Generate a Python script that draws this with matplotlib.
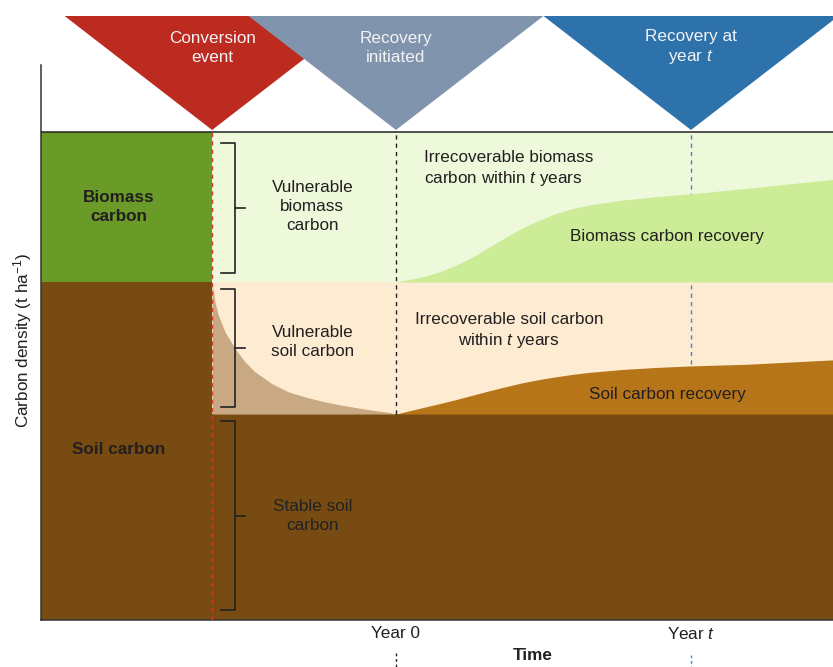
import matplotlib
matplotlib.use("Agg")
import matplotlib.pyplot as plt

plt.rcParams['font.family'] = ['Liberation Sans', 'DejaVu Sans']
plt.rcParams['mathtext.fontset'] = 'custom'
plt.rcParams['mathtext.rm'] = 'Liberation Sans'
plt.rcParams['mathtext.it'] = 'Liberation Sans:italic'
plt.rcParams['mathtext.bf'] = 'Liberation Sans:bold'

# time axis (years relative to recovery start), carbon density (arbitrary t/ha)
conversion_year = -18.7
year_0 = 0
year_t = 30
biomass_top = 200.0
soil_top = 138.5
stable_top = 84.4

# soil carbon decay after conversion
decay_years = [-18.7, -18.41, -18.07, -17.39, -16.37, -15.36, -14.34, -12.64, -10.95,
               -9.25, -7.56, -5.87, -4.17, -2.47, -0.78, 0]
decay_vals = [138.0, 130.4, 125.0, 118.1, 111.3, 105.8, 101.7, 96.9, 93.5,
              91.4, 89.7, 88.3, 87.1, 86.0, 85.1, 84.4]

# recovery curves
rec_years = [0, 2.78, 4.47, 6.17, 7.86, 9.56, 11.26, 12.95, 14.64, 16.34, 18.03, 19.73,
             23.12, 26.51, 29.9, 35.7, 44.5]
biomass_rec = [138.5, 140.7, 142.7, 145.5, 148.9, 153.0, 157.1, 160.9, 163.9, 166.7, 168.7,
               170.1, 172.1, 173.5, 174.6, 176.9, 180.6]
soil_rec = [84.4, 87.1, 88.7, 90.4, 92.2, 94.0, 95.7, 97.3, 98.6, 99.7, 100.7, 101.5,
            102.7, 103.5, 104.1, 104.8, 106.6]

events = [conversion_year, year_0, year_t]
event_labels = ['Conversion\nevent', 'Recovery\ninitiated', 'Recovery at\nyear $t$']
event_colors = ['#BD2A1F', '#8194AD', '#2E72AB']

x_left, x_right = -36.1, 44.44
tri_half = 15.0
tri_top = 247.5
txt = '#231F20'

fig = plt.figure(figsize=(8.33, 6.67), dpi=100)
ax = fig.add_axes([41/833, 47/667, 792/833, 604/667])
ax.set_xlim(x_left, x_right)
ax.set_ylim(0, 247.5)

# background bands
ax.fill_between([x_left, conversion_year], soil_top, biomass_top, color='#6A9A27', lw=0, zorder=1)
ax.fill_between([x_left, conversion_year], 0, soil_top, color='#774B12', lw=0, zorder=1)
ax.fill_between([conversion_year, x_right], soil_top, biomass_top, color='#EEF8DB', lw=0, zorder=1)
ax.fill_between([conversion_year, x_right], stable_top, soil_top, color='#FDEBD2', lw=0, zorder=1)
ax.fill_between([conversion_year, x_right], 0, stable_top, color='#774B12', lw=0, zorder=1)

# year t marker (behind recovery fills)
ax.plot([year_t, year_t], [stable_top, biomass_top], color='#4A86C0', lw=1.0,
        dashes=(3, 3), zorder=1.5)

ax.fill_between(decay_years, stable_top, decay_vals, color='#C8A984', lw=0, zorder=2)
ax.fill_between(rec_years, soil_top, biomass_rec, color='#CDEC98', lw=0, zorder=2)
ax.fill_between(rec_years, stable_top, soil_rec, color='#B7751A', lw=0, zorder=2)

ax.plot([year_0, year_0], [stable_top, biomass_top], color='#222222', lw=1.0,
        dashes=(3, 3), zorder=3)
ax.plot([conversion_year, conversion_year], [0, biomass_top], color='#D33A2C', lw=1.0,
        dashes=(3, 3), zorder=3)
ax.axhline(biomass_top, color='#222222', lw=1.1, zorder=5)

# brackets
bx, bl, bm = -16.4, -17.8, -15.4
for lo, hi in [(soil_top + 3.7, biomass_top - 4.5), (stable_top + 2.9, soil_top - 2.9),
               (4.1, stable_top - 2.9)]:
    ax.plot([bl, bx, bx, bl], [hi, hi, lo, lo], color='#222222', lw=1.2, zorder=4)
    mid = (lo + hi) / 2
    ax.plot([bx, bm], [mid, mid], color='#222222', lw=1.2, zorder=4)

fs = 12.3
ls = 1.33
ax.text(-8.5, 169.4, 'Vulnerable\nbiomass\ncarbon', ha='center', va='center', fontsize=fs,
        color=txt, linespacing=ls, zorder=4)
ax.text(-8.5, 113.9, 'Vulnerable\nsoil carbon', ha='center', va='center', fontsize=fs,
        color=txt, linespacing=ls, zorder=4)
ax.text(-8.5, 42.6, 'Stable soil\ncarbon', ha='center', va='center', fontsize=fs,
        color='#222222', linespacing=ls, zorder=4)
ax.text(-28.2, 169.4, 'Biomass\ncarbon', ha='center', va='center', fontsize=fs,
        color=txt, fontweight='bold', linespacing=ls, zorder=4)
ax.text(-28.2, 69.7, 'Soil carbon', ha='center', va='center', fontsize=fs,
        color=txt, fontweight='bold', zorder=4)
ax.text(2.85, 184.8, 'Irrecoverable biomass\ncarbon within $t$ years', ha='left', va='center',
        fontsize=fs, color=txt, linespacing=ls, zorder=4)
ax.text(11.5, 118.4, 'Irrecoverable soil carbon\nwithin $t$ years', ha='center', va='center',
        fontsize=fs, color=txt, linespacing=ls, zorder=4)
ax.text(27.6, 157.0, 'Biomass carbon recovery', ha='center', va='center', fontsize=fs,
        color=txt, zorder=4)
ax.text(27.6, 92.2, 'Soil carbon recovery', ha='center', va='center', fontsize=fs,
        color=txt, zorder=4)

# event triangles
for i, (ev, lab, col) in enumerate(zip(events, event_labels, event_colors)):
    ax.fill([ev - tri_half, ev + tri_half, ev], [tri_top, tri_top, biomass_top + 0.8],
            color=col, lw=0, zorder=6 + i)
    ax.text(ev, 234.5, lab, ha='center', va='center', fontsize=fs, color='#F2F3F5',
            linespacing=ls, zorder=10)

# little marks under the year labels
ax.plot([year_0, year_0], [-13.6, -19.5], color='#222222', lw=1.0, dashes=(2, 2),
        clip_on=False)
ax.plot([year_t, year_t], [-14.3, -19.5], color='#4A86C0', lw=1.0, dashes=(2, 2),
        clip_on=False)

ax.set_xticks([year_0, year_t])
ax.set_xticklabels(['Year 0', 'Year $t$'], fontsize=fs, color=txt)
ax.tick_params(axis='x', length=0, pad=4)
ax.set_yticks([])
ax.set_xlabel('Time', fontsize=fs, fontweight='bold', color=txt)
ax.xaxis.set_label_coords(0.621, -0.047)
ax.set_ylabel('Carbon density (t ha$^{-1}$)', fontsize=fs, color=txt)
ax.yaxis.set_label_coords(-0.009, 0.4636)

for s in ['top', 'right']:
    ax.spines[s].set_visible(False)
ax.spines['left'].set_bounds(0, 227.5)
ax.spines['left'].set_linewidth(1.1)
ax.spines['bottom'].set_linewidth(1.1)
ax.spines['left'].set_color('#333333')
ax.spines['bottom'].set_color('#333333')
ax.patch.set_alpha(0)

fig.savefig('out.png', dpi=100)
